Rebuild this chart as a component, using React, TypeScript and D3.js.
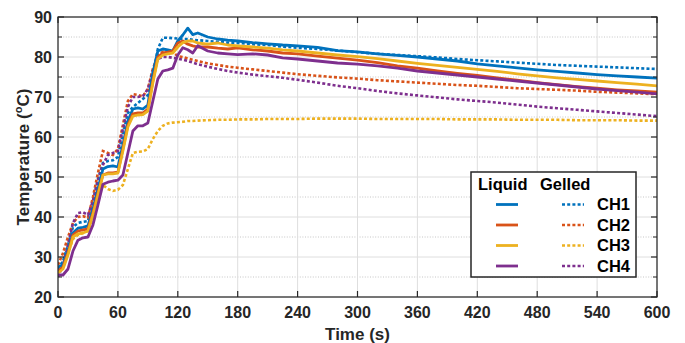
import React from "react";
import * as d3 from "d3";

// sample times (s)
const times = [
  0, 5, 10, 15, 20, 25, 30, 35, 40, 45, 50, 55, 60, 65, 70, 75, 80, 85, 90, 95,
  100, 105, 110, 115, 120, 125, 130, 135, 140, 150, 160, 170, 180, 195, 210, 225,
  240, 260, 280, 300, 320, 340, 360, 380, 400, 420, 440, 460, 480, 500, 520, 540,
  560, 580, 600,
];

// Liquid (solid) channels
const liquidCH1 = [
  27.5, 28, 31.5, 36, 37.2, 37.4, 37.8, 42, 47, 52, 52.6, 52.8, 52.5, 58, 64, 67, 67.3, 67, 68, 76,
  81.5, 82, 81.8, 81.5, 84, 85.5, 87.2, 85.6, 86, 85, 84.5, 84.2, 84, 83.6, 83.3, 83,
  82.8, 82.4, 81.6, 81.3, 80.8, 80.4, 80, 79.5, 79, 78.3, 77.8, 77.3, 76.8, 76.4, 76, 75.6,
  75.3, 75, 74.7,
];
const liquidCH2 = [
  26.5, 27.5, 31, 35.5, 36.5, 36.8, 37, 41, 46, 50.5, 51, 51, 51.2, 57, 63, 65.8, 66, 66, 67, 74,
  80, 81, 81.2, 81.5, 83.5, 84, 83.2, 82.8, 82.5, 82.5, 82.2, 82, 82.3, 81.8, 81.5, 81,
  80.8, 80.2, 79.7, 79.2, 78.6, 77.8, 77.2, 76.5, 75.9, 75.4, 74.8, 74.2, 73.6, 73.1, 72.6, 72.2,
  71.8, 71.5, 71.2,
];
const liquidCH3 = [
  26, 27, 30.5, 35, 35.8, 36, 36.5, 40.5, 45.5, 50.5, 50.8, 50.8, 51, 56.5, 62.5, 65.2, 65.5, 65.6, 66.5, 73.5,
  79.5, 80.5, 80.8, 81, 82.5, 83.6, 84, 84, 83.5, 83.2, 83.5, 83, 82.8, 82.5, 82.2, 81.8,
  81.5, 81, 80.5, 80.1, 79.6, 79, 78.4, 77.9, 77.4, 76.9, 76.4, 75.8, 75.3, 74.8, 74.4, 74,
  73.6, 73.2, 72.8,
];
const liquidCH4 = [
  25.5, 25.5, 27, 31.5, 34.2, 34.8, 35, 38, 43, 48.2, 48.7, 49, 49.2, 50.5, 56, 61.5, 62.8, 62.8, 63.5, 69,
  74.5, 76.5, 76.8, 77.2, 80.5, 82.3, 81.8, 81, 82.8, 81.5, 81, 80.8, 80.6, 80.8, 80.5, 79.8,
  79.5, 79, 78.5, 78.2, 77.8, 77.2, 76.5, 76, 75.5, 75, 74.5, 74, 73.5, 73, 72.5, 72,
  71.6, 71.2, 70.8,
];

// Gelled (dotted) channels
const gelledCH1 = [
  27, 29, 33, 37.5, 38.5, 38.8, 39, 44, 49.5, 53.5, 54, 54.2, 55, 61, 66, 67.5, 68.5, 69.5, 70.5, 75,
  82, 84.8, 84.8, 84.7, 84.6, 84.5, 84.5, 84.3, 84.2, 84, 83.8, 83.6, 83.5, 83.2, 83, 82.6,
  82.3, 82, 81.6, 81.2, 80.8, 80.5, 80.2, 79.9, 79.5, 79.2, 78.9, 78.6, 78.3, 78, 77.8, 77.6,
  77.4, 77.2, 77,
];
const gelledCH2 = [
  28, 31, 35, 38.5, 40, 40.2, 39.8, 45, 51, 56.5, 56, 55.5, 57, 63, 69, 70.7, 70.5, 70.2, 72, 77,
  80.5, 81.3, 81, 81.2, 80.2, 80, 79.6, 79.3, 79, 78.4, 78, 77.6, 77.3, 76.9, 76.5, 76.1,
  75.7, 75.3, 74.9, 74.6, 74.2, 73.9, 73.6, 73.3, 73, 72.8, 72.5, 72.2, 72, 71.8, 71.6, 71.3,
  71.1, 70.9, 70.7,
];
const gelledCH3 = [
  26, 28, 31, 34.5, 35.5, 36, 36.5, 40, 44.5, 48, 47, 46.5, 46.8, 48, 52, 56, 56.3, 56.4, 57, 59.5,
  61.5, 62.8, 63.4, 63.6, 63.7, 63.8, 64, 64, 64.1, 64.2, 64.3, 64.3, 64.4, 64.4, 64.5, 64.5,
  64.5, 64.6, 64.6, 64.6, 64.5, 64.5, 64.5, 64.5, 64.4, 64.4, 64.4, 64.3, 64.3, 64.3, 64.2, 64.2,
  64.2, 64.1, 64.1,
];
const gelledCH4 = [
  25, 28, 33, 38.5, 41, 41.2, 40.5, 44, 49, 53, 55.5, 56, 56.5, 62, 67.5, 70, 70, 70.2, 72, 76.5,
  79.5, 80, 80, 79.8, 79.6, 79.3, 79, 78.6, 78.2, 77.6, 77, 76.5, 76.1, 75.6, 75.2, 74.8,
  74.3, 73.6, 72.8, 72.2, 71.5, 70.9, 70.4, 69.9, 69.4, 69, 68.6, 68.1, 67.6, 67.2, 66.8, 66.4,
  66, 65.6, 65.2,
];

const channels = ["CH1", "CH2", "CH3", "CH4"];
const colors = ["#0072BD", "#D95319", "#EDB120", "#7E2F8E"];
const liquidSeries = [liquidCH1, liquidCH2, liquidCH3, liquidCH4];
const gelledSeries = [gelledCH1, gelledCH2, gelledCH3, gelledCH4];

const xTicks = [0, 60, 120, 180, 240, 300, 360, 420, 480, 540, 600];
const yTicks = [20, 30, 40, 50, 60, 70, 80, 90];
const yMinor = [25, 35, 45, 55, 65, 75, 85];

const W = 685;
const H = 343;
const margin = { top: 17, right: 28, bottom: 46, left: 58 };
const FONT = "'Liberation Sans', Arial, Helvetica, sans-serif";
const INK = "#262626";

export default function App() {
  const pw = W - margin.left - margin.right;
  const ph = H - margin.top - margin.bottom;
  const x = d3.scaleLinear().domain([0, 600]).range([margin.left, margin.left + pw]);
  const y = d3.scaleLinear().domain([20, 90]).range([margin.top + ph, margin.top]);

  const line = d3
    .line<number>()
    .x((_, i) => x(times[i]))
    .y((d) => y(d));

  const x0 = x(0), x1 = x(600), y0 = y(20), y1 = y(90);

  // legend layout
  const lg = { left: 471, top: 172, right: 636, bottom: 277 };
  const rowY = [204.5, 225, 245.5, 266];

  return (
    <svg
      width={W}
      height={H}
      style={{ position: "absolute", left: 0, top: 0, background: "#fff" }}
      fontFamily={FONT}
      fontWeight="bold"
    >
      <defs>
        <clipPath id="plot">
          <rect x={x0} y={y1} width={x1 - x0} height={y0 - y1} />
        </clipPath>
      </defs>

      {/* grid */}
      {yMinor.map((v) => (
        <line key={"ym" + v} x1={x0} x2={x1} y1={y(v)} y2={y(v)} stroke="#b8b8b8" strokeWidth={0.8} strokeDasharray="1 1.6" />
      ))}
      {yTicks.map((v) => (
        <line key={"yg" + v} x1={x0} x2={x1} y1={y(v)} y2={y(v)} stroke="#dedede" strokeWidth={1} />
      ))}
      {xTicks.map((v) => (
        <line key={"xg" + v} x1={x(v)} x2={x(v)} y1={y0} y2={y1} stroke="#dedede" strokeWidth={1} />
      ))}

      {/* series */}
      <g clipPath="url(#plot)" fill="none">
        {gelledSeries.map((s, i) => (
          <path key={"g" + i} d={line(s) || ""} stroke={colors[i]} strokeWidth={2.6} strokeDasharray="3 2.2" />
        ))}
        {liquidSeries.map((s, i) => (
          <path key={"l" + i} d={line(s) || ""} stroke={colors[i]} strokeWidth={2.8} strokeLinejoin="round" />
        ))}
      </g>

      {/* frame and ticks */}
      <rect x={x0} y={y1} width={x1 - x0} height={y0 - y1} fill="none" stroke={INK} strokeWidth={1.2} />
      {xTicks.map((v) => (
        <g key={"xt" + v} stroke={INK} strokeWidth={1.2}>
          <line x1={x(v)} x2={x(v)} y1={y0} y2={y0 - 6} />
          <line x1={x(v)} x2={x(v)} y1={y1} y2={y1 + 6} />
        </g>
      ))}
      {yTicks.map((v) => (
        <g key={"yt" + v} stroke={INK} strokeWidth={1.2}>
          <line x1={x0} x2={x0 + 6} y1={y(v)} y2={y(v)} />
          <line x1={x1} x2={x1 - 6} y1={y(v)} y2={y(v)} />
        </g>
      ))}
      {yMinor.map((v) => (
        <g key={"ymt" + v} stroke={INK} strokeWidth={1}>
          <line x1={x0} x2={x0 + 4} y1={y(v)} y2={y(v)} />
          <line x1={x1} x2={x1 - 4} y1={y(v)} y2={y(v)} />
        </g>
      ))}

      {/* tick labels */}
      {xTicks.map((v) => (
        <text key={"xl" + v} x={x(v)} y={318} textAnchor="middle" fontSize={16} fill={INK}>
          {v}
        </text>
      ))}
      {yTicks.map((v) => (
        <text key={"yl" + v} x={52} y={y(v) + 5.7} textAnchor="end" fontSize={16} fill={INK}>
          {v}
        </text>
      ))}

      {/* axis titles */}
      <text x={(x0 + x1) / 2} y={340} textAnchor="middle" fontSize={17} fill={INK}>
        Time (s)
      </text>
      <text
        transform={`translate(29, ${(y0 + y1) / 2}) rotate(-90)`}
        textAnchor="middle"
        fontSize={17}
        fill={INK}
      >
        Temperature (<tspan fontSize={11} dy={-7}>o</tspan>
        <tspan dy={7}>C)</tspan>
      </text>

      {/* legend */}
      <rect x={lg.left} y={lg.top} width={lg.right - lg.left} height={lg.bottom - lg.top} fill="#fff" stroke={INK} strokeWidth={1.5} />
      <text x={478} y={190} fontSize={16.5} fill="#000">Liquid</text>
      <text x={540} y={190} fontSize={16.5} fill="#000">Gelled</text>
      {channels.map((c, i) => (
        <g key={c}>
          <line x1={496} x2={518} y1={rowY[i]} y2={rowY[i]} stroke={colors[i]} strokeWidth={2.8} />
          <line x1={562} x2={584} y1={rowY[i]} y2={rowY[i]} stroke={colors[i]} strokeWidth={2.6} strokeDasharray="3 2.2" />
          <text x={597} y={rowY[i] + 5.8} fontSize={16.5} fill="#000">{c}</text>
        </g>
      ))}
    </svg>
  );
}
